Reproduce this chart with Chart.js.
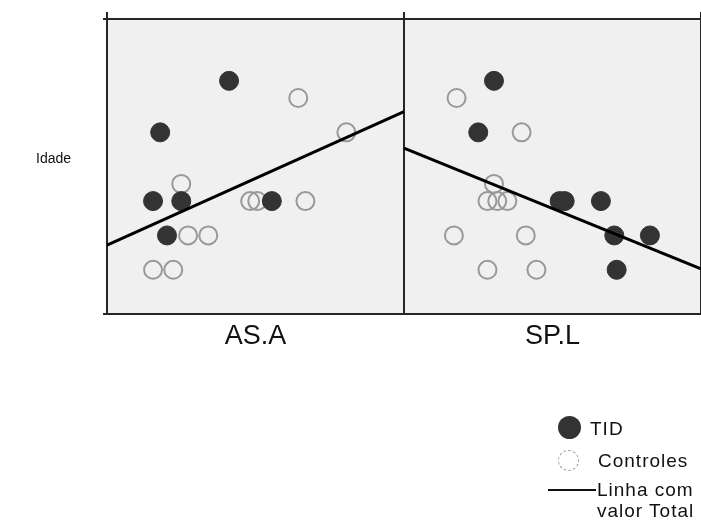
<!DOCTYPE html>
<html>
<head>
<meta charset="utf-8">
<script src="https://cdn.jsdelivr.net/npm/chart.js@4.4.0/dist/chart.umd.min.js"></script>
<style>
    body { margin: 0; background: #fff; font-family: "Liberation Sans", Arial, sans-serif; }
    #wrap { position: relative; width: 701px; height: 529px; }
    .txt { position: absolute; color: #111; white-space: nowrap; }
    .leg { font-size: 19px; letter-spacing: 1px; }
</style>
</head>
<body>
<div id="wrap">
    <canvas id="myChart" width="701" height="529"></canvas>
    <div class="txt" style="left:36px; top:150px; font-size:14px; line-height:16px;">Idade</div>
    <div id="legend"></div>
</div>
<script>
// panel names (x axis)
const panels = ["AS.A", "SP.L"];

// points per panel: [score, idade]
const tidAsa = [[41.1, 18], [17.9, 15], [15.5, 11], [25.0, 11], [55.5, 11], [20.2, 9]];
const ctrlAsa = [[64.4, 17], [80.6, 15], [25.0, 12], [48.2, 11], [50.6, 11], [66.8, 11], [27.3, 9], [34.1, 9], [15.5, 7], [22.3, 7]];
const tidSpl = [[30.3, 18], [25.0, 15], [52.4, 11], [54.1, 11], [66.3, 11], [70.8, 9], [82.8, 9], [71.6, 7]];
const ctrlSpl = [[17.7, 17], [39.6, 15], [30.3, 12], [28.1, 11], [31.4, 11], [34.8, 11], [16.8, 9], [41.0, 9], [28.1, 7], [44.6, 7]];

// total fit line: value at start and end of each panel
const lineAsa = [8.43, 16.21];
const lineSpl = [14.08, 7.06];

const yMin = 4.45;
const yMax = 21.6;

const legendLabels = ["TID", "Controles", "Linha com valor Total"];

const toPoints = (arr, offset) => arr.map(p => ({ x: p[0] + offset, y: p[1] }));
const toLine = (arr, offset) => [{ x: offset, y: arr[0] }, { x: offset + 100, y: arr[1] }];

const frame = "#262626";

const panelBg = {
    id: "panelBg",
    beforeDraw(chart) {
        const a = chart.chartArea;
        const ctx = chart.ctx;
        ctx.save();
        ctx.fillStyle = "#f0f0f0";
        ctx.fillRect(a.left, a.top, a.right - a.left, a.bottom - a.top);
        ctx.restore();
    }
};

const lineStyle = { type: "line", showLine: true, borderColor: "#000", borderWidth: 3, pointRadius: 0, fill: false };
const tidStyle = { backgroundColor: "#333", borderColor: "#333", borderWidth: 1, pointRadius: 9.5 };
const ctrlStyle = { backgroundColor: "rgba(0,0,0,0)", borderColor: "#999", borderWidth: 2, pointRadius: 9 };

const ctx = document.getElementById("myChart").getContext("2d");
const myChart = new Chart(ctx, {
    type: "scatter",
    data: {
        datasets: [
            Object.assign({ data: toLine(lineAsa, 0) }, lineStyle),
            Object.assign({ data: toLine(lineSpl, 100) }, lineStyle),
            Object.assign({ label: legendLabels[0], data: toPoints(tidAsa, 0) }, tidStyle),
            Object.assign({ label: legendLabels[0], data: toPoints(tidSpl, 100) }, tidStyle),
            Object.assign({ label: legendLabels[1], data: toPoints(ctrlAsa, 0) }, ctrlStyle),
            Object.assign({ label: legendLabels[1], data: toPoints(ctrlSpl, 100) }, ctrlStyle)
        ]
    },
    options: {
        responsive: false,
        animation: false,
        layout: { autoPadding: false, padding: { left: 103, top: 12, right: 0, bottom: 176 } },
        plugins: { legend: { display: false }, tooltip: { enabled: false } },
        scales: {
            x: {
                type: "linear",
                position: "bottom",
                min: 0,
                max: 200,
                afterBuildTicks: axis => { axis.ticks = [0, 50, 100, 150, 200].map(v => ({ value: v })); },
                ticks: {
                    autoSkip: false,
                    maxRotation: 0,
                    padding: 0,
                    color: "#111",
                    font: { family: "Liberation Sans", size: 27 },
                    callback: v => (v === 50 ? panels[0] : v === 150 ? panels[1] : "")
                },
                grid: {
                    drawTicks: true,
                    tickLength: 7,
                    tickColor: "rgba(0,0,0,0)",
                    lineWidth: 2,
                    color: c => (c.tick && c.tick.value % 100 === 0 ? frame : "rgba(0,0,0,0)")
                },
                border: { color: frame, width: 2 }
            },
            x2: {
                type: "linear",
                position: "top",
                min: 0,
                max: 200,
                afterBuildTicks: axis => { axis.ticks = [0, 100, 200].map(v => ({ value: v })); },
                ticks: { display: false },
                grid: { drawOnChartArea: false, drawTicks: true, tickLength: 7, lineWidth: 2, color: frame },
                border: { color: frame, width: 2 }
            },
            y: {
                min: yMin,
                max: yMax,
                afterBuildTicks: axis => { axis.ticks = [{ value: yMin }, { value: yMax }]; },
                ticks: { display: false },
                grid: { drawOnChartArea: false, drawTicks: true, tickLength: 4, lineWidth: 2, color: frame },
                border: { color: frame, width: 2 }
            }
        }
    },
    plugins: [panelBg]
});

// legend
const legend = document.getElementById("legend");
legend.innerHTML = `
    <div style="position:absolute; left:558px; top:416px; width:23px; height:23px; border-radius:50%; background:#333;"></div>
    <div class="txt leg" style="left:590px; top:418px; line-height:22px;">${legendLabels[0]}</div>
    <div style="position:absolute; left:558px; top:450px; width:21px; height:21px; border-radius:50%; border:1px dashed #999; box-sizing:border-box;"></div>
    <div class="txt leg" style="left:598px; top:450px; line-height:22px;">${legendLabels[1]}</div>
    <div style="position:absolute; left:548px; top:489px; width:48px; height:2px; background:#111;"></div>
    <div class="txt leg" style="left:597px; top:479px; line-height:21px;">Linha com<br>valor Total</div>
`;
</script>
</body>
</html>
